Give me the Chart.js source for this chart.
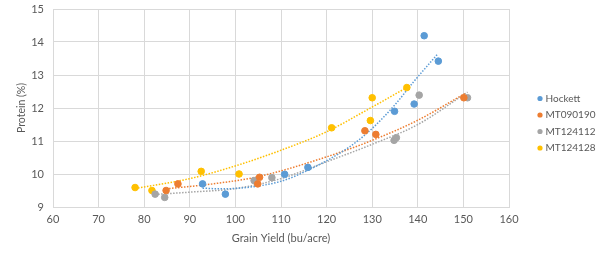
<!DOCTYPE html>
<html lang="en">
<head>
    <meta charset="UTF-8">
    <script src="https://cdn.jsdelivr.net/npm/chart.js"></script>
    <title>Protein vs Grain Yield</title>
    <style>
        body { margin: 0; background: #fff; }
        .wrap { width: 600px; height: 256px; }
    </style>
</head>
<body>
    <div class="wrap"><canvas id="yieldChart"></canvas></div>
    <script>
        // series names
        const seriesNames = ['Hockett', 'MT090190', 'MT124112', 'MT124128'];
        const seriesColors = ['#5B9BD5', '#ED7D31', '#A5A5A5', '#FFC000'];

        // points (grain yield, protein)
        const hockettX = [92.8, 97.8, 110.8, 115.9, 134.9, 139.2, 141.4, 144.5];
        const hockettY = [9.70, 9.39, 9.99, 10.20, 11.90, 12.12, 14.19, 13.42];
        const mt090190X = [84.8, 87.4, 104.9, 105.3, 128.4, 130.8, 150.1];
        const mt090190Y = [9.50, 9.70, 9.70, 9.90, 11.31, 11.20, 12.31];
        const mt124112X = [82.4, 84.5, 104.1, 108.0, 134.8, 135.3, 140.3, 150.9];
        const mt124112Y = [9.39, 9.29, 9.80, 9.89, 11.02, 11.10, 12.39, 12.31];
        const mt124128X = [78.0, 81.7, 92.5, 100.8, 121.1, 129.6, 130.0, 137.6];
        const mt124128Y = [9.59, 9.50, 10.08, 10.00, 11.40, 11.62, 12.31, 12.62];

        // dotted trendlines
        const hockettTrendX = [92.8, 97, 103, 110, 116, 125, 130, 135, 139, 144.3];
        const hockettTrendY = [9.57, 9.55, 9.6, 9.78, 10.12, 10.82, 11.38, 12.1, 12.78, 13.63];
        const mt090190TrendX = [84.8, 95, 105, 120, 130, 140, 150.5];
        const mt090190TrendY = [9.55, 9.7, 9.92, 10.52, 11.02, 11.63, 12.45];
        const mt124112TrendX = [82.4, 90, 100, 110, 120, 130, 140, 150.9];
        const mt124112TrendY = [9.38, 9.45, 9.56, 9.86, 10.37, 10.9, 11.5, 12.48];
        const mt124128TrendX = [78.0, 90, 100.8, 110, 120, 130, 137.6];
        const mt124128TrendY = [9.56, 9.86, 10.28, 10.72, 11.28, 12.03, 12.62];

        // axis ticks
        const xTicks = [60, 70, 80, 90, 100, 110, 120, 130, 140, 150, 160];
        const yTicks = [9, 10, 11, 12, 13, 14, 15];

        function pairs(xs, ys) {
            return xs.map((x, i) => ({ x: x, y: ys[i] }));
        }

        const pointSets = [
            pairs(hockettX, hockettY),
            pairs(mt090190X, mt090190Y),
            pairs(mt124112X, mt124112Y),
            pairs(mt124128X, mt124128Y)
        ];
        const trendSets = [
            pairs(hockettTrendX, hockettTrendY),
            pairs(mt090190TrendX, mt090190TrendY),
            pairs(mt124112TrendX, mt124112TrendY),
            pairs(mt124128TrendX, mt124128TrendY)
        ];

        const datasets = [];
        seriesNames.forEach((name, i) => {
            datasets.push({
                label: name,
                data: pointSets[i],
                backgroundColor: seriesColors[i],
                borderColor: seriesColors[i],
                pointRadius: 3.3,
                pointStyle: 'circle',
                order: 1
            });
        });
        seriesNames.forEach((name, i) => {
            datasets.push({
                label: 'trend ' + name,
                type: 'line',
                data: trendSets[i],
                showLine: true,
                borderColor: seriesColors[i],
                borderWidth: 1.5,
                borderDash: [1.5, 1.5],
                pointRadius: 0,
                fill: false,
                cubicInterpolationMode: 'monotone',
                order: 2
            });
        });

        const textColor = '#595959';
        const gridColor = '#d9d9d9';
        const fontFamily = 'Lato, "Liberation Sans", sans-serif';

        // legend on the right, drawn by hand so it sits where the original one does
        const sideLegend = {
            id: 'sideLegend',
            afterDraw(chart) {
                const c = chart.ctx;
                c.save();
                c.font = '10px ' + fontFamily;
                c.textBaseline = 'middle';
                c.textAlign = 'left';
                seriesNames.forEach((name, i) => {
                    const y = 98.5 + i * 16.5;
                    c.fillStyle = chart.data.datasets[i].backgroundColor;
                    c.beginPath();
                    c.arc(540, y, 2.6, 0, Math.PI * 2);
                    c.fill();
                    c.fillStyle = textColor;
                    c.fillText(name, 545.5, y);
                });
                c.restore();
            }
        };

        const ctx = document.getElementById('yieldChart').getContext('2d');
        const chart = new Chart(ctx, {
            type: 'scatter',
            data: { datasets: datasets },
            plugins: [sideLegend],
            options: {
                responsive: true,
                maintainAspectRatio: false,
                animation: false,
                layout: { padding: { top: 9, left: 0, right: 91, bottom: 0 } },
                plugins: {
                    legend: { display: false },
                    tooltip: { enabled: false }
                },
                scales: {
                    x: {
                        type: 'linear',
                        min: 60,
                        max: 160,
                        afterBuildTicks: axis => { axis.ticks = xTicks.map(v => ({ value: v })); },
                        afterFit: axis => { axis.height = 49; axis.paddingRight = 0; },
                        grid: { color: gridColor, drawTicks: false },
                        border: { color: gridColor },
                        ticks: { color: textColor, padding: 6, font: { family: fontFamily, size: 11 } },
                        title: {
                            display: true,
                            text: 'Grain Yield (bu/acre)',
                            color: textColor,
                            padding: { top: 0, bottom: 11 },
                            font: { family: fontFamily, size: 11 }
                        }
                    },
                    y: {
                        type: 'linear',
                        min: 9,
                        max: 15,
                        afterBuildTicks: axis => { axis.ticks = yTicks.map(v => ({ value: v })); },
                        afterFit: axis => { axis.width = 53; axis.paddingTop = 0; axis.paddingBottom = 0; },
                        grid: { color: gridColor, drawTicks: false },
                        border: { color: gridColor },
                        ticks: { color: textColor, padding: 9, font: { family: fontFamily, size: 11 } },
                        title: {
                            display: true,
                            text: 'Protein (%)',
                            color: textColor,
                            padding: { top: 15, bottom: 0 },
                            font: { family: fontFamily, size: 10.5 }
                        }
                    }
                }
            }
        });
    </script>
</body>
</html>
